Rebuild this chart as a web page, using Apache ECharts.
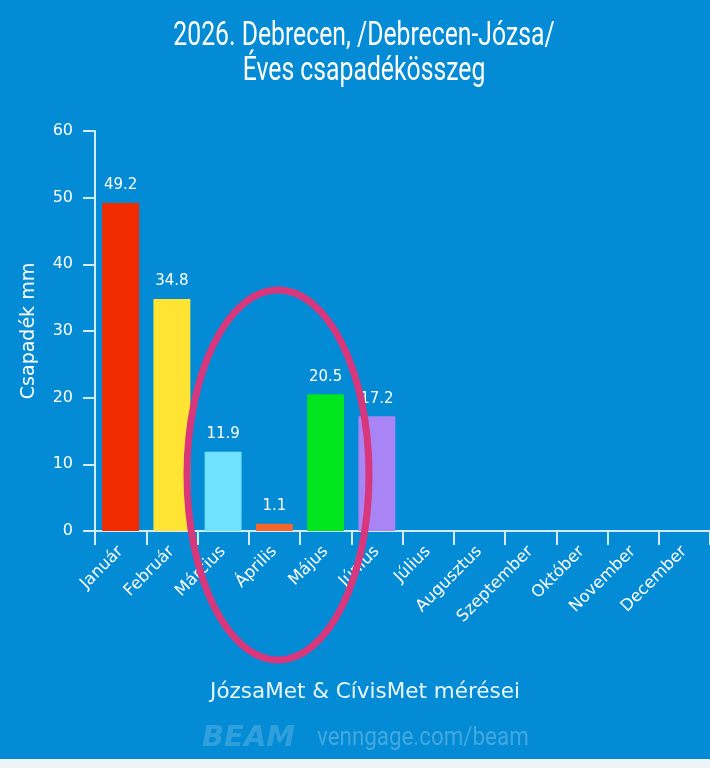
<!DOCTYPE html>
<html>
<head>
<meta charset="utf-8">
<script src="https://cdn.jsdelivr.net/npm/echarts@6/dist/echarts.min.js"></script>
<style>
  html, body { margin: 0; padding: 0; background: #038bd5; }
  #chart { width: 710px; height: 768px; }
</style>
</head>
<body>
<div id="chart"></div>
<script>
var months = ['Január', 'Február', 'Március', 'Április', 'Május', 'Június',
              'Július', 'Augusztus', 'Szeptember', 'Október', 'November', 'December'];
var rainMm = [49.2, 34.8, 11.9, 1.1, 20.5, 17.2, null, null, null, null, null, null];
var barColors = ['#f22b00', '#ffe433', '#6fe2ff', '#f3652a', '#00e61e', '#a884f5'];
var yTicks = [0, 10, 20, 30, 40, 50, 60];
var titleLines = ['2026. Debrecen, /Debrecen-Józsa/', 'Éves csapadékösszeg'];

var myChart = echarts.init(document.getElementById('chart'));

var barData = rainMm.map(function (v, i) {
    return { value: v, itemStyle: { color: barColors[i] || '#ffffff' } };
});

// narrow title font: squeeze Roboto horizontally
function titleText(str, y) {
    return {
        type: 'text',
        x: 364,
        y: y,
        scaleX: 0.75,
        style: {
            text: str,
            fill: '#ffffff',
            font: '33px Roboto',
            textAlign: 'center',
            textVerticalAlign: 'middle'
        }
    };
}

var option = {
    backgroundColor: '#038bd5',
    animation: false,
    grid: { left: 95, right: -2, top: 131, bottom: 237 },
    xAxis: {
        type: 'category',
        data: months,
        axisLine: { lineStyle: { color: '#d3ecfa', width: 2 } },
        axisTick: { show: true, length: 14, lineStyle: { color: '#d3ecfa', width: 2 } },
        axisLabel: {
            rotate: 45,
            color: '#ffffff',
            fontFamily: 'DejaVu Sans',
            fontSize: 16.5,
            margin: 18,
            interval: 0
        }
    },
    yAxis: {
        type: 'value',
        min: yTicks[0],
        max: yTicks[yTicks.length - 1],
        interval: 10,
        name: 'Csapadék mm',
        nameLocation: 'middle',
        nameGap: 56,
        nameTextStyle: { color: '#ffffff', fontFamily: 'DejaVu Sans', fontSize: 19 },
        axisLine: { show: true, lineStyle: { color: '#d3ecfa', width: 2 } },
        axisTick: { show: true, length: 12, lineStyle: { color: '#d3ecfa', width: 2 } },
        axisLabel: { color: '#ffffff', fontFamily: 'DejaVu Sans', fontSize: 16, margin: 22 },
        splitLine: { show: false }
    },
    series: [{
        type: 'bar',
        data: barData,
        barCategoryGap: '28%',
        label: {
            show: true,
            position: 'top',
            distance: 10,
            color: '#ffffff',
            fontFamily: 'DejaVu Sans',
            fontSize: 15
        }
    }],
    graphic: [
        titleText(titleLines[0], 37),
        titleText(titleLines[1], 72),
        {
            type: 'ellipse',
            shape: { cx: 278, cy: 475, rx: 91, ry: 185 },
            style: { fill: 'none', stroke: '#d8377b', lineWidth: 7 },
            z: 100
        },
        {
            type: 'text',
            x: 365,
            y: 692,
            style: {
                text: 'JózsaMet & CívisMet mérései',
                fill: '#eaf5fc',
                font: '21.5px "DejaVu Sans"',
                textAlign: 'center',
                textVerticalAlign: 'middle'
            }
        },
        {
            type: 'text',
            x: 202,
            y: 738,
            style: {
                text: 'BEAM',
                fill: 'rgba(255,255,255,0.18)',
                font: 'italic 900 29px "DejaVu Sans"',
                textVerticalAlign: 'middle'
            }
        },
        {
            type: 'text',
            x: 317,
            y: 738,
            scaleX: 0.86,
            style: {
                text: 'venngage.com/beam',
                fill: 'rgba(255,255,255,0.25)',
                font: '26px Roboto',
                textVerticalAlign: 'middle'
            }
        },
        {
            type: 'rect',
            shape: { x: 0, y: 759, width: 710, height: 9 },
            style: { fill: '#eef3f6' }
        }
    ]
};

myChart.setOption(option);
</script>
</body>
</html>
